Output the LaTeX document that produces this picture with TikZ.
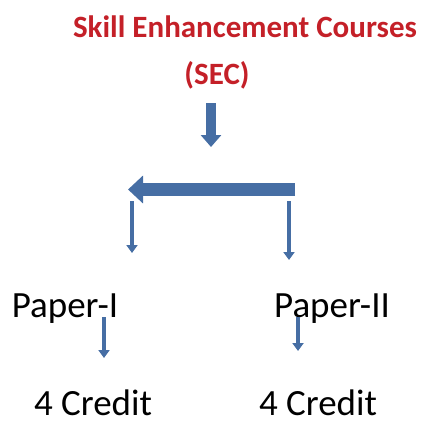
\documentclass[tikz,border=0pt]{standalone}
\usepackage{fontspec}
\setmainfont{Carlito}
\usetikzlibrary{arrows.meta}
\definecolor{secred}{RGB}{196,32,40}
\definecolor{arrowblue}{RGB}{70,110,164}
\begin{document}
\begin{tikzpicture}[x=1pt,y=-1pt,
    heading/.style={text=secred, font=\fontsize{31}{36}\selectfont\bfseries},
    papertext/.style={font=\fontsize{37}{42}\selectfont},
    credittext/.style={font=\fontsize{37}{42}\selectfont},
    thinarrow/.style={draw=arrowblue, line width=4pt, -{Triangle[width=11pt,length=8pt]}},
    midarrow/.style={draw=arrowblue, line width=10pt, -{Triangle[width=20pt,length=12pt]}},
    bigarrow/.style={draw=arrowblue, line width=13pt, -{Triangle[width=27pt,length=15pt]}},
]
\useasboundingbox (0,0) rectangle (425,424);

% Title
\node[heading] (sec) at (245,27) {Skill Enhancement Courses};
\node[heading] (secabbr) at (217,75) {(SEC)};

% Papers and credits
\node[papertext] (paperone) at (65,309) {Paper-I};
\node[papertext] (papertwo) at (332,309) {Paper-II};
\node[credittext] (creditone) at (93,403) {4 Credit};
\node[credittext] (credittwo) at (318,403) {4 Credit};

% Arrow ends
\coordinate (topstart) at (211,103);
\coordinate (topend) at (211,147);
\coordinate (splitright) at (295,189.5);
\coordinate (splitleft) at (128,189.5);
\coordinate (leftstart) at (132,201);
\coordinate (leftend) at (132,253);
\coordinate (rightstart) at (289,201);
\coordinate (rightend) at (289,260);
\coordinate (onestart) at (104,317);
\coordinate (oneend) at (104,358);
\coordinate (twostart) at (298,317);
\coordinate (twoend) at (298,351);

\draw[midarrow] (topstart) -- (topend);
\draw[bigarrow] (splitright) -- (splitleft);
\draw[thinarrow] (leftstart) -- (leftend);
\draw[thinarrow] (rightstart) -- (rightend);
\draw[thinarrow] (onestart) -- (oneend);
\draw[thinarrow] (twostart) -- (twoend);

\end{tikzpicture}
\end{document}
